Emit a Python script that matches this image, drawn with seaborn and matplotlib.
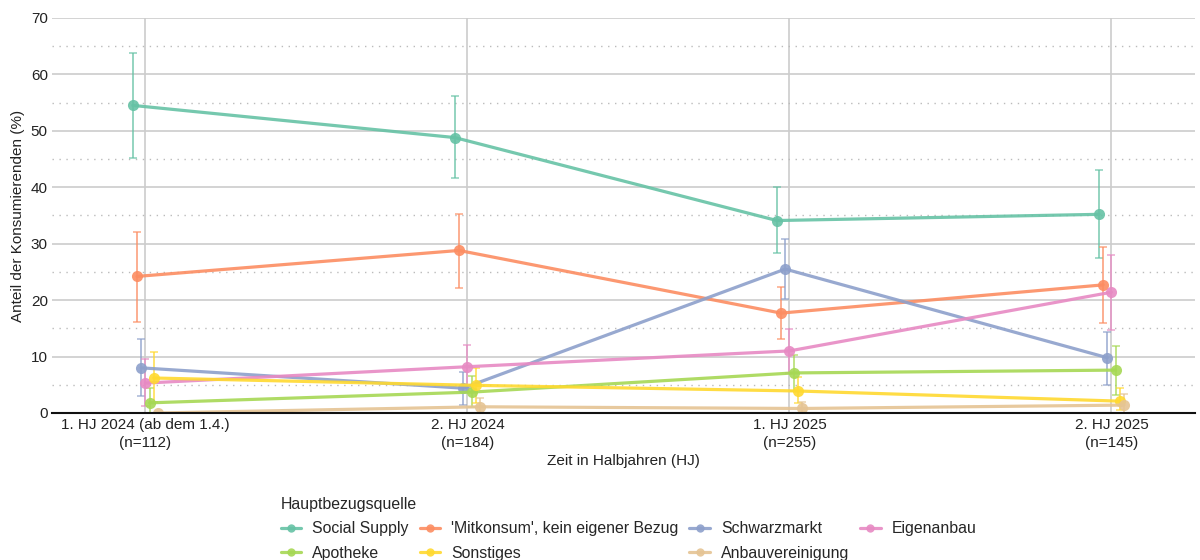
import numpy as np
import pandas as pd
import matplotlib
matplotlib.use("Agg")
import matplotlib.pyplot as plt
from matplotlib.lines import Line2D
from matplotlib.ticker import MultipleLocator
import seaborn as sns

# Survey waves (x axis)
periods = ["1. HJ 2024 (ab dem 1.4.)\n(n=112)", "2. HJ 2024\n(n=184)",
           "1. HJ 2025\n(n=255)", "2. HJ 2025\n(n=145)"]

# Main source of supply (legend order)
sources = ["Social Supply", "'Mitkonsum', kein eigener Bezug", "Schwarzmarkt",
           "Eigenanbau", "Apotheke", "Sonstiges", "Anbauvereinigung"]

# Share of consumers (%) with confidence intervals
social_supply = [54.5, 48.8, 34.1, 35.2]
social_supply_lo = [45.2, 41.7, 28.4, 27.5]
social_supply_hi = [63.7, 56.2, 40.0, 43.0]

mitkonsum = [24.2, 28.8, 17.7, 22.7]
mitkonsum_lo = [16.2, 22.2, 13.1, 16.0]
mitkonsum_hi = [32.0, 35.3, 22.3, 29.5]

schwarzmarkt = [8.0, 4.4, 25.5, 9.8]
schwarzmarkt_lo = [3.0, 1.4, 20.2, 5.0]
schwarzmarkt_hi = [13.1, 7.2, 30.8, 14.4]

eigenanbau = [5.3, 8.2, 11.0, 21.4]
eigenanbau_lo = [1.2, 4.4, 7.1, 14.7]
eigenanbau_hi = [9.6, 12.0, 14.9, 28.0]

apotheke = [1.8, 3.7, 7.1, 7.6]
apotheke_lo = [0.0, 1.1, 3.9, 3.2]
apotheke_hi = [4.4, 6.6, 10.3, 11.9]

sonstiges = [6.2, 4.9, 3.9, 2.1]
sonstiges_lo = [2.0, 1.7, 1.7, 0.5]
sonstiges_hi = [10.8, 8.0, 6.4, 4.4]

anbauvereinigung = [0.0, 1.1, 0.8, 1.4]
anbauvereinigung_lo = [0.0, 0.0, 0.0, 0.0]
anbauvereinigung_hi = [0.0, 2.6, 1.9, 3.4]

series = [
    (social_supply, social_supply_lo, social_supply_hi),
    (mitkonsum, mitkonsum_lo, mitkonsum_hi),
    (schwarzmarkt, schwarzmarkt_lo, schwarzmarkt_hi),
    (eigenanbau, eigenanbau_lo, eigenanbau_hi),
    (apotheke, apotheke_lo, apotheke_hi),
    (sonstiges, sonstiges_lo, sonstiges_hi),
    (anbauvereinigung, anbauvereinigung_lo, anbauvereinigung_hi),
]

sns.set_theme(style="white")
plt.rcParams["font.family"] = ["Liberation Sans", "DejaVu Sans"]

palette = sns.color_palette("Set2", len(sources))
colors = dict(zip(sources, palette))

# Dodge the series horizontally around each wave
dodge_step = 0.013
rows = []
for k, (name, (val, lo, hi)) in enumerate(zip(sources, series)):
    off = (k - (len(sources) - 1) / 2) * dodge_step
    for i in range(len(periods)):
        rows.append({"source": name, "xpos": i + off, "value": val[i],
                     "lo": lo[i], "hi": hi[i]})
df = pd.DataFrame(rows)

fig = plt.figure(figsize=(12, 5.6), dpi=100)
ax = fig.add_axes([0.0433, 0.2625, 0.9527, 0.7055])

for name in sources:
    d = df[df["source"] == name]
    ax.errorbar(d["xpos"], d["value"],
                yerr=[d["value"] - d["lo"], d["hi"] - d["value"]],
                fmt="none", ecolor=colors[name], alpha=0.7,
                elinewidth=1.4, capsize=3, capthick=1.2, zorder=3)

sns.lineplot(data=df, x="xpos", y="value", hue="source", hue_order=sources,
             palette=colors, marker="o", markersize=8, markeredgewidth=0,
             linewidth=2.3, alpha=0.9, sort=False, estimator=None,
             legend=False, ax=ax, zorder=4)

ax.set_xlim(-0.29, 3.26)
ax.set_ylim(0, 70)
ax.set_xticks(range(len(periods)))
ax.set_xticklabels(periods, fontsize=11, color="#222222", linespacing=1.35)
ax.yaxis.set_major_locator(MultipleLocator(10))
ax.yaxis.set_minor_locator(MultipleLocator(5))
ax.tick_params(axis="y", labelsize=11, colors="#222222", length=0, pad=3)
ax.tick_params(axis="x", length=0, pad=3.5)
ax.tick_params(which="minor", length=0)

ax.grid(which="major", axis="both", color="#cccccc", linewidth=1.2, zorder=0)
ax.grid(which="minor", axis="y", color="#bbbbbb", linewidth=1.0,
        linestyle=(0, (1, 4)), zorder=0)
ax.set_axisbelow(True)

for s in ["left", "right", "top"]:
    ax.spines[s].set_visible(False)
ax.spines["bottom"].set_color("#111111")
ax.spines["bottom"].set_linewidth(1.5)
ax.spines["bottom"].set_zorder(5)

ax.set_xlabel("Zeit in Halbjahren (HJ)", fontsize=11, color="#222222", labelpad=3)
ax.set_ylabel("Anteil der Konsumierenden (%)", fontsize=11, color="#222222",
              labelpad=4)

# Legend laid out row by row in four columns
handles = {name: Line2D([], [], color=colors[name], marker="o", markersize=6,
                        markeredgewidth=0, linewidth=2.3, alpha=0.9)
           for name in sources}
order = ["Social Supply", "Apotheke", "'Mitkonsum', kein eigener Bezug",
         "Sonstiges", "Schwarzmarkt", "Anbauvereinigung", "Eigenanbau"]
leg = fig.legend([handles[n] for n in order], order, title="Hauptbezugsquelle",
                 ncol=4, loc="lower left", bbox_to_anchor=(0.222, -0.027),
                 frameon=False, fontsize=11.4, title_fontsize=11.4,
                 handlelength=1.3, handletextpad=0.7, columnspacing=0.68,
                 labelspacing=0.6, alignment="left")

fig.savefig("out.png", dpi=100)
